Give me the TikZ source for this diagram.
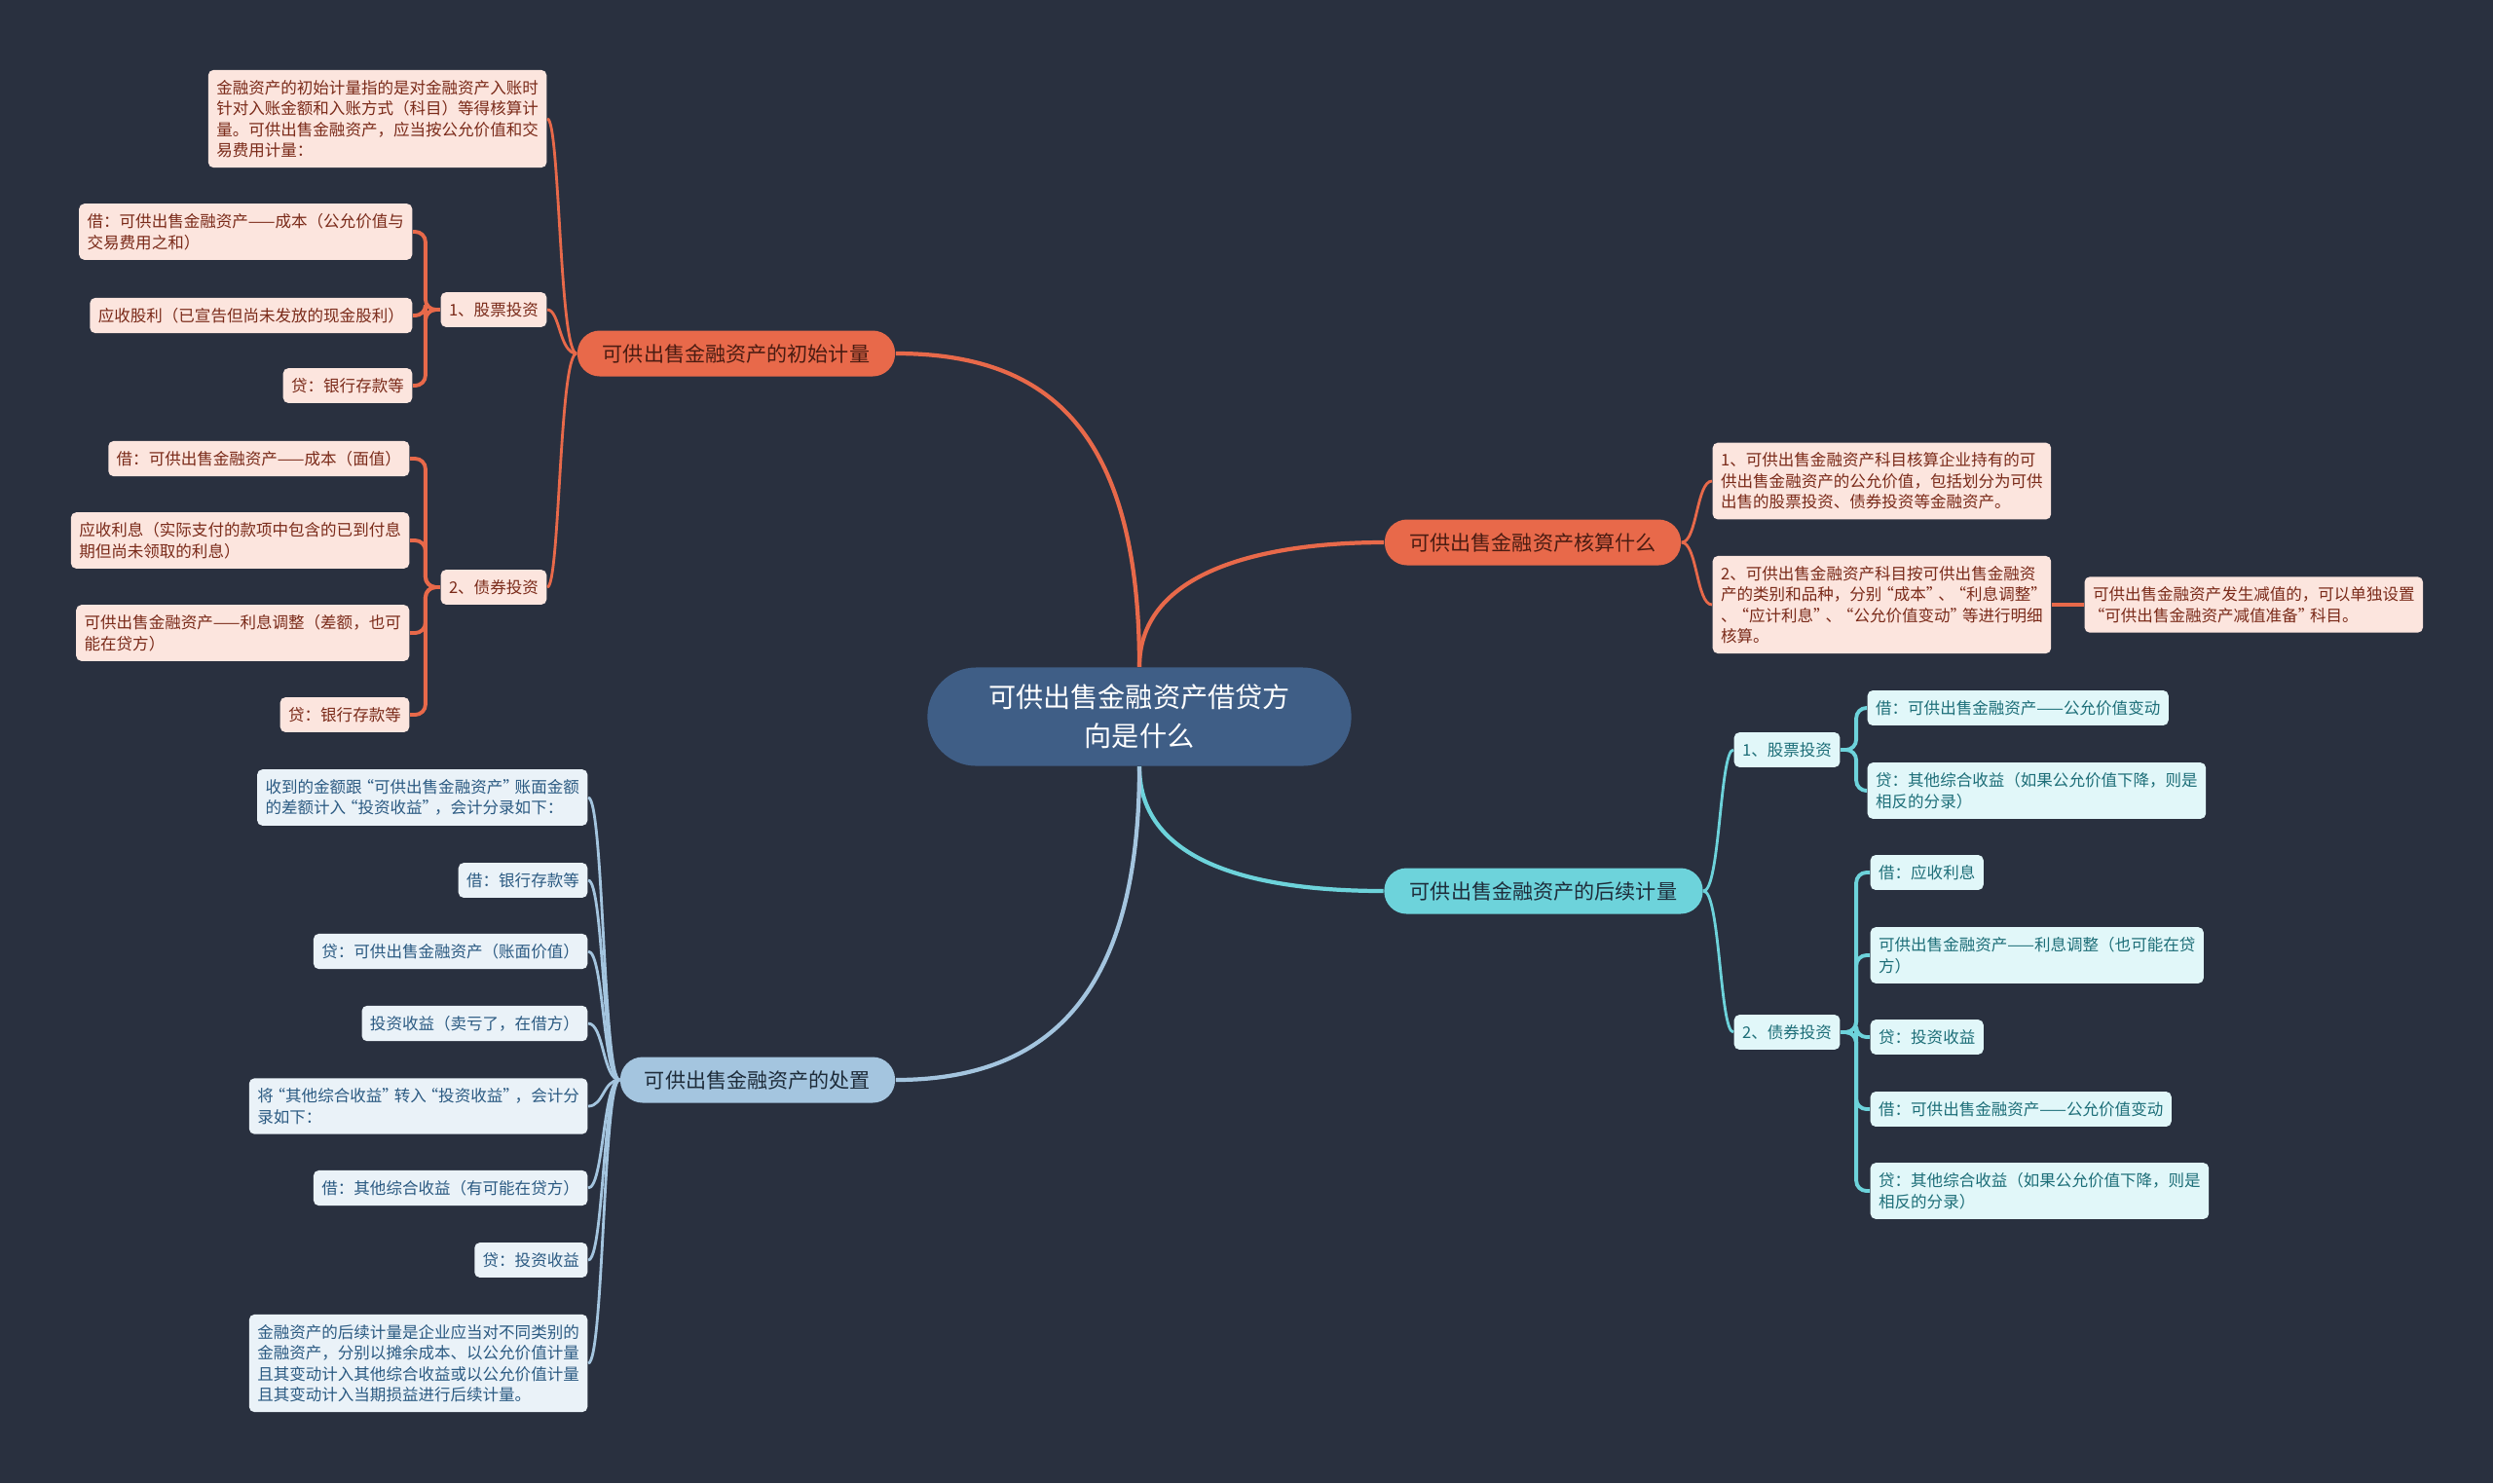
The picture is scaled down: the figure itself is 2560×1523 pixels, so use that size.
\documentclass[tikz,border=0pt]{standalone}
\usepackage{fontspec}
\setmainfont{Noto Sans CJK SC}
\usepackage{xcolor}
\usepackage{tikz}
\usetikzlibrary{positioning}
\definecolor{mmbg}{HTML}{29303F}
\definecolor{mmroot}{HTML}{3F5E86}
\definecolor{mmred}{HTML}{E8694A}
\definecolor{mmredpale}{HTML}{FCE5DE}
\definecolor{mmredink}{HTML}{7A2A19}
\definecolor{mmredtext}{HTML}{4A1C12}
\definecolor{mmcyan}{HTML}{6DD3DB}
\definecolor{mmcyanpale}{HTML}{E1F7F9}
\definecolor{mmcyanink}{HTML}{1D6E78}
\definecolor{mmblue}{HTML}{A4C5DF}
\definecolor{mmbluepale}{HTML}{EAF2F8}
\definecolor{mmblueink}{HTML}{2B5A82}
\definecolor{mmdarktext}{HTML}{1E2C3A}
\newcommand{\leaffont}{\fontsize{4.7pt}{6.1pt}\selectfont}
\newcommand{\branchfont}{\fontsize{6pt}{7pt}\selectfont}
\newcommand{\rootfont}{\fontsize{8pt}{11.4pt}\selectfont}
% narrower quote marks
\newcommand{\oq}{\makebox[0.75em][r]{“}}
\newcommand{\cq}{\makebox[0.75em][l]{”}}

\begin{document}
\begin{tikzpicture}[x=0.01cm,y=-0.01cm,
  leaf/.style={rounded corners=1.5pt,inner xsep=2.4pt,inner ysep=2.9pt,
    align=left,font=\leaffont},
  redleaf/.style={leaf,fill=mmredpale,text=mmredink},
  cyanleaf/.style={leaf,fill=mmcyanpale,text=mmcyanink},
  blueleaf/.style={leaf,fill=mmbluepale,text=mmblueink},
  branch/.style={rounded corners=0.23cm,minimum height=0.47cm,inner sep=0pt,
    font=\branchfont},
  mainline/.style={line width=1.2pt},
  fanline/.style={line width=0.8pt},
  brkline/.style={line width=1.1pt,rounded corners=3pt}]
\fill[mmbg] (0,0) rectangle (2560,1523);
\useasboundingbox (0,0) rectangle (2560,1523);

% root and main topics
\node[fill=mmroot,text=white,rounded corners=0.5cm,minimum width=4.35cm,
  minimum height=1.01cm,align=center,font=\rootfont] (root) at (1170,736)
  {可供出售金融资产借贷方\\向是什么};
\node[branch,fill=mmred,text=mmredtext,minimum width=3.26cm] (init) at (756,363)
  {可供出售金融资产的初始计量};
\node[branch,fill=mmred,text=mmredtext,minimum width=3.04cm] (hesuan) at (1574,557)
  {可供出售金融资产核算什么};
\node[branch,fill=mmcyan,text=mmdarktext,minimum width=3.27cm] (houxu) at (1585,915)
  {可供出售金融资产的后续计量};
\node[branch,fill=mmblue,text=mmdarktext,minimum width=2.82cm] (chuzhi) at (778,1109)
  {可供出售金融资产的处置};

\draw[mainline,mmred] (root.north) .. controls +(0,-250) and +(150,0) .. (init.east);
\draw[mainline,mmred] (root.north) .. controls +(0,-100) and +(-120,0) .. (hesuan.west);
\draw[mainline,mmcyan] (root.south) .. controls +(0,100) and +(-130,0) .. (houxu.west);
\draw[mainline,mmblue] (root.south) .. controls +(0,230) and +(160,0) .. (chuzhi.east);

% initial measurement
\node[redleaf,anchor=east] (initA) at (562,122)
  {金融资产的初始计量指的是对金融资产入账时\\针对入账金额和入账方式（科目）等得核算计\\量。可供出售金融资产，应当按公允价值和交\\易费用计量：};
\node[redleaf,anchor=east] (gp1) at (562,318) {1、股票投资};
\node[redleaf,anchor=east] (zq1) at (562,603) {2、债券投资};
\node[redleaf,anchor=east] (a1) at (424,238)
  {借：可供出售金融资产——成本（公允价值与\\交易费用之和）};
\node[redleaf,anchor=east] (a2) at (424,324) {应收股利（已宣告但尚未发放的现金股利）};
\node[redleaf,anchor=east] (a3) at (424,396) {贷：银行存款等};
\node[redleaf,anchor=east] (b1) at (421,471) {借：可供出售金融资产——成本（面值）};
\node[redleaf,anchor=east] (b2) at (421,555)
  {应收利息（实际支付的款项中包含的已到付息\\期但尚未领取的利息）};
\node[redleaf,anchor=east] (b3) at (421,650)
  {可供出售金融资产——利息调整（差额，也可\\能在贷方）};
\node[redleaf,anchor=east] (b4) at (421,734) {贷：银行存款等};
\foreach \n in {initA,gp1,zq1}
  \draw[fanline,mmred] (init.west) .. controls +(-18,0) and +(13,0) .. (\n.east);
\foreach \n in {a1,a2,a3}
  \draw[brkline,mmred] (gp1.west) -- ++(-15,0) |- (\n.east);
\foreach \n in {b1,b2,b3,b4}
  \draw[brkline,mmred] (zq1.west) -- ++(-15,0) |- (\n.east);

% what is accounted
\node[redleaf,anchor=west] (hs1) at (1758,494)
  {1、可供出售金融资产科目核算企业持有的可\\供出售金融资产的公允价值，包括划分为可供\\出售的股票投资、债券投资等金融资产。};
\node[redleaf,anchor=west] (hs2) at (1758,621)
  {2、可供出售金融资产科目按可供出售金融资\\产的类别和品种，分别\oq 成本\cq 、\oq 利息调整\cq\\、\oq 应计利息\cq 、\oq 公允价值变动\cq 等进行明细\\核算。};
\node[redleaf,right=0.33cm of hs2] (hs3)
  {可供出售金融资产发生减值的，可以单独设置\\\oq 可供出售金融资产减值准备\cq 科目。};
\foreach \n in {hs1,hs2}
  \draw[fanline,mmred] (hesuan.east) .. controls +(16,0) and +(-16,0) .. (\n.west);
\draw[brkline,mmred] (hs2.east) -- (hs3.west);

% subsequent measurement
\node[cyanleaf,anchor=west] (gp2) at (1780,770) {1、股票投资};
\node[cyanleaf,anchor=west] (zq2) at (1780,1060) {2、债券投资};
\node[cyanleaf,anchor=west] (c1) at (1917,727) {借：可供出售金融资产——公允价值变动};
\node[cyanleaf,anchor=west] (c2) at (1917,812)
  {贷：其他综合收益（如果公允价值下降，则是\\相反的分录）};
\node[cyanleaf,anchor=west] (d1) at (1920,896) {借：应收利息};
\node[cyanleaf,anchor=west] (d2) at (1920,981)
  {可供出售金融资产——利息调整（也可能在贷\\方）};
\node[cyanleaf,anchor=west] (d3) at (1920,1065) {贷：投资收益};
\node[cyanleaf,anchor=west] (d4) at (1920,1139) {借：可供出售金融资产——公允价值变动};
\node[cyanleaf,anchor=west] (d5) at (1920,1223)
  {贷：其他综合收益（如果公允价值下降，则是\\相反的分录）};
\foreach \n in {gp2,zq2}
  \draw[fanline,mmcyan] (houxu.east) .. controls +(17,0) and +(-14,0) .. (\n.west);
\foreach \n in {c1,c2}
  \draw[brkline,mmcyan] (gp2.east) -- ++(16,0) |- (\n.west);
\foreach \n in {d1,d2,d3,d4,d5}
  \draw[brkline,mmcyan] (zq2.east) -- ++(16,0) |- (\n.west);

% disposal
\node[blueleaf,anchor=east] (e1) at (604,819)
  {收到的金额跟\oq 可供出售金融资产\cq 账面金额\\的差额计入\oq 投资收益\cq ，会计分录如下：};
\node[blueleaf,anchor=east] (e2) at (604,904) {借：银行存款等};
\node[blueleaf,anchor=east] (e3) at (604,977) {贷：可供出售金融资产（账面价值）};
\node[blueleaf,anchor=east] (e4) at (604,1051) {投资收益（卖亏了，在借方）};
\node[blueleaf,anchor=east] (e5) at (604,1136)
  {将\oq 其他综合收益\cq 转入\oq 投资收益\cq ，会计分\\录如下：};
\node[blueleaf,anchor=east] (e6) at (604,1220) {借：其他综合收益（有可能在贷方）};
\node[blueleaf,anchor=east] (e7) at (604,1294) {贷：投资收益};
\node[blueleaf,anchor=east] (e8) at (604,1400)
  {金融资产的后续计量是企业应当对不同类别的\\金融资产，分别以摊余成本、以公允价值计量\\且其变动计入其他综合收益或以公允价值计量\\且其变动计入当期损益进行后续计量。};
\foreach \n in {e1,e2,e3,e4,e5,e6,e7,e8}
  \draw[fanline,mmblue] (chuzhi.west) .. controls +(-17,0) and +(16,0) .. (\n.east);
\end{tikzpicture}
\end{document}
